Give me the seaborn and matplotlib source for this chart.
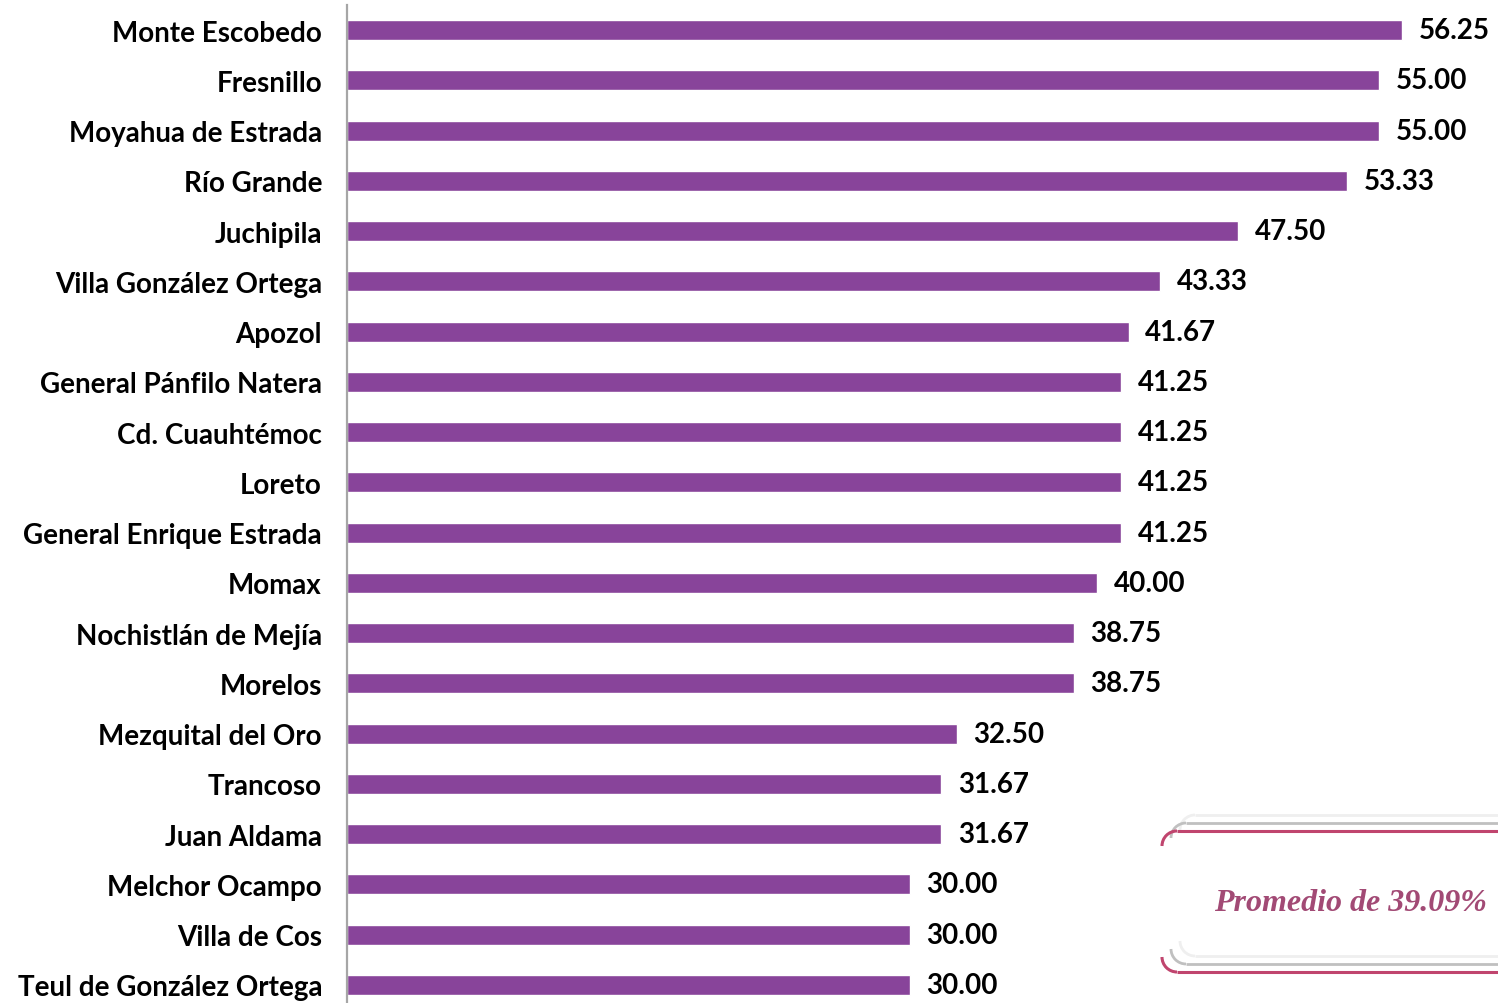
import numpy as np
import pandas as pd
import matplotlib
matplotlib.use("Agg")
import matplotlib.pyplot as plt
import seaborn as sns
from matplotlib.patches import Arc

municipios = [
    "Monte Escobedo", "Fresnillo", "Moyahua de Estrada", "Río Grande",
    "Juchipila", "Villa González Ortega", "Apozol", "General Pánfilo Natera",
    "Cd. Cuauhtémoc", "Loreto", "General Enrique Estrada", "Momax",
    "Nochistlán de Mejía", "Morelos", "Mezquital del Oro", "Trancoso",
    "Juan Aldama", "Melchor Ocampo", "Villa de Cos", "Teul de González Ortega",
]
porcentajes = [
    56.25, 55.00, 55.00, 53.33, 47.50, 43.33, 41.67, 41.25, 41.25, 41.25,
    41.25, 40.00, 38.75, 38.75, 32.50, 31.67, 31.67, 30.00, 30.00, 30.00,
]
promedio = 39.09

df = pd.DataFrame({"municipio": municipios, "valor": porcentajes})

sns.set_style("white")
plt.rcParams["font.family"] = ["Lato", "DejaVu Sans"]

W, H = 1498, 1004
fig = plt.figure(figsize=(W / 100, H / 100), dpi=100)
ax = fig.add_axes([347 / W, -7 / H, 1 - 347 / W, 1005 / H])

sns.barplot(data=df, x="valor", y="municipio", color="#88449A",
            width=0.4, saturation=1, ax=ax)
ax.set_xlim(0, 61.36)
ax.set_ylim(19.5, -0.5)
ax.set_xlabel("")
ax.set_ylabel("")
ax.set_xticks([])
for s in ["top", "right", "bottom"]:
    ax.spines[s].set_visible(False)
ax.spines["left"].set_color("#A6A6A6")
ax.spines["left"].set_linewidth(1.6)
ax.tick_params(axis="y", length=0, pad=18, labelsize=20, labelcolor="black")
for lab in ax.get_yticklabels():
    lab.set_fontweight("bold")
    lab.set_va("center_baseline")

ax.bar_label(ax.containers[0], labels=[f"{v:.2f}" for v in porcentajes],
             padding=12, fontsize=20, fontweight="bold", color="black")

# recuadro del promedio (coordenadas en pixeles de la figura)
ov = fig.add_axes([0, 0, 1, 1], facecolor="none")
ov.set_xlim(0, W)
ov.set_ylim(H, 0)
ov.axis("off")
capas = [("#EFEFEF", 1180, 816, 957, 2.0), ("#C0C0C0", 1171, 824, 965, 2.0),
         ("#C0456E", 1162, 832, 973, 2.2)]
r = 15
for col, x0, yt, yb, lw in capas:
    ov.plot([x0 + r, W], [yt, yt], color=col, lw=lw, solid_capstyle="butt")
    ov.plot([x0 + r, W], [yb, yb], color=col, lw=lw, solid_capstyle="butt")
    ov.add_patch(Arc((x0 + r, yt + r), 2 * r, 2 * r, theta1=180, theta2=270,
                     color=col, lw=lw))
    ov.add_patch(Arc((x0 + r, yb - r), 2 * r, 2 * r, theta1=90, theta2=180,
                     color=col, lw=lw))
ov.text(1350, 904, f"Promedio de {promedio:.2f}%", ha="center", va="center",
        fontsize=23, fontweight="bold", fontstyle="italic",
        family=["Liberation Serif", "DejaVu Serif"], color="#A24A75")

fig.savefig("out.png", dpi=100)
